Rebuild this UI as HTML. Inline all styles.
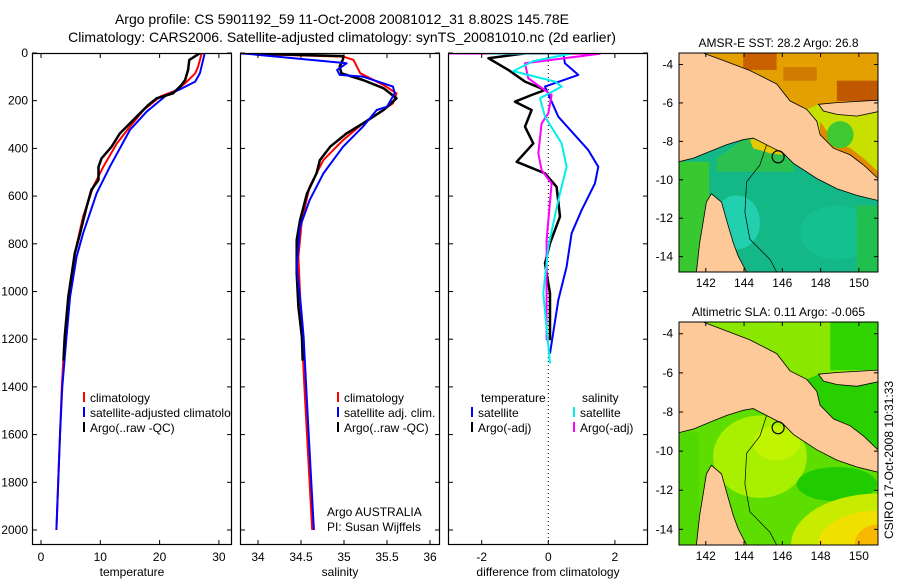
<!DOCTYPE html>
<html><head><meta charset="utf-8"><style>
html,body{margin:0;padding:0;background:#fff;}
svg text{font-family:"Liberation Sans",sans-serif;}
</style></head><body>
<svg id="fig" xmlns="http://www.w3.org/2000/svg" width="900" height="580" viewBox="0 0 900 580">
<rect width="900" height="580" fill="#fff"/>
<text x="342" y="24" font-size="14" text-anchor="middle">Argo profile: CS 5901192_59 11-Oct-2008 20081012_31 8.802S 145.78E</text>
<text x="342" y="42" font-size="14" text-anchor="middle">Climatology: CARS2006. Satellite-adjusted climatology: synTS_20081010.nc (2d earlier)</text>
<g id="panels"></g>
<g id="maps"></g>
<text transform="translate(893,460) rotate(-90)" font-size="12" text-anchor="middle">CSIRO 17-Oct-2008 10:31:33</text>
</svg>
<script>
// ---- data (depth in dbar) ----
const tempClimDepth=[1,57,85,120,155,183,239,309,379,477,561,686,840,1022,1190,1400,1600,1800,2000];
const tempClim=[27.1,26.5,26.0,24.6,22.9,20.1,17.3,15.0,12.8,10.5,8.8,7.1,5.7,4.6,4.0,3.5,3.2,2.9,2.6];
const tempSatDepth=[1,85,120,155,176,246,323,477,588,756,854,1022,1190,1400,1600,1800,2000];
const tempSat=[27.6,26.8,26.0,23.2,21.2,17.8,15.0,11.6,9.4,7.1,6.0,4.9,4.3,3.6,3.2,2.9,2.6];
const tempArgoDepth=[1,29,71,113,134,169,190,218,253,295,337,393,442,477,532,574,644,756,840,924,1022,1190,1290];
const tempArgo=[26.8,25.0,24.8,24.3,23.7,22.3,19.5,18.1,16.7,15.0,13.3,11.9,10.2,9.7,9.7,8.5,7.7,6.6,5.7,5.2,4.6,4.0,3.8];
const salClimDepth=[5,15,29,85,134,169,211,295,365,449,561,700,854,1190,1400,1600,1800,2000];
const salClim=[34.0,34.99,35.11,35.19,35.46,35.61,35.57,35.22,34.99,34.76,34.60,34.51,34.47,34.51,34.54,34.57,34.60,34.63];
const salSatDepth=[1,43,71,92,99,141,169,225,239,309,393,505,617,728,896,1064,1190,1400,1600,1800,2000];
const salSat=[33.8,35.03,34.92,34.95,35.22,35.57,35.59,35.50,35.38,35.22,34.99,34.76,34.60,34.49,34.45,34.50,34.53,34.56,34.59,34.62,34.65];
const salArgoDepth=[1,13,25,57,85,113,148,190,239,295,337,393,449,505,589,700,784,924,1064,1190,1290];
const salArgo=[33.79,34.99,34.99,34.95,34.97,35.22,35.46,35.61,35.46,35.22,35.03,34.84,34.72,34.68,34.57,34.49,34.45,34.45,34.47,34.51,34.52];
const dTSatDepth=[0,43,92,141,267,407,477,547,659,756,896,1036,1260];
const dTSat=[0.45,0.5,0.9,-0.1,0.3,1.2,1.5,1.4,1.0,0.7,0.55,0.3,0.05];
const dTArgoDepth=[0,22,71,120,155,176,204,239,309,379,456,505,561,686,798,882,1008,1204];
const dTArgo=[-0.6,-1.8,-1.2,-0.7,-0.1,-0.5,-1.0,-0.5,-0.7,-0.45,-0.95,-0.1,0.25,0.35,0.05,-0.1,0.05,0.05];
const dSSatDepth=[2,2,34,76,120,141,190,267,379,477,617,812,1008,1302];
const dSSat=[-1.85,0.7,-0.45,-1.05,0.2,0.4,-0.25,-0.1,0.4,0.55,0.3,0.0,-0.15,0.05];
const dSArgoDepth=[2,3,43,106,176,253,295,421,491,547,784,1204];
const dSArgo=[-3.0,1.55,-0.7,-0.6,0.1,0.0,-0.2,-0.3,-0.2,0.1,-0.05,-0.05];
const depthTicks=[0,200,400,600,800,1000,1200,1400,1600,1800,2000];
const tempTicks=[0,10,20,30];
const salTicks=[34,34.5,35,35.5,36];
const diffTicks=[-2,0,2];
const lonTicks=[142,144,146,148,150];
const latTicks=[-4,-6,-8,-10,-12,-14];
const argoLon=145.78, argoLat=-8.802;

const NS='http://www.w3.org/2000/svg';
function mk(tag,attrs,parent){const e=document.createElementNS(NS,tag);for(const k in attrs)e.setAttribute(k,attrs[k]);parent.appendChild(e);return e;}
const panels=document.getElementById('panels');
const TOP=53,BOT=545;
const yD=d=>TOP+d*0.2385;
const xT=v=>41+5.93*v;
const xS=v=>258+86*(v-34);
const xDf=v=>548.3+33.3*v;

function panel(name,x0,x1,xf,ticks,label,fmt){
  const g=mk('g',{},panels);
  
  
  mk('rect',{x:x0,y:TOP,width:x1-x0,height:BOT-TOP,fill:'#fff'},g);
  const cp=mk('clipPath',{id:'cp'+name},g);
  mk('rect',{x:x0,y:TOP,width:x1-x0,height:BOT-TOP},cp);
  const inner=mk('g',{'clip-path':'url(#cp'+name+')'},g);
  depthTicks.forEach(d=>{
    mk('line',{x1:x0,x2:x0+5,y1:yD(d),y2:yD(d),stroke:'#000'},g);
    mk('line',{x1:x1-5,x2:x1,y1:yD(d),y2:yD(d),stroke:'#000'},g);
  });
  ticks.forEach(t=>{
    const x=xf(t);
    mk('line',{x1:x,x2:x,y1:TOP,y2:TOP+5,stroke:'#000'},g);
    mk('line',{x1:x,x2:x,y1:BOT-5,y2:BOT,stroke:'#000'},g);
    const tx=mk('text',{x:x,y:561,'font-size':12,'text-anchor':'middle'},g);
    
    
    tx.textContent=fmt(t);
  });
  const xl=mk('text',{x:(x0+x1)/2,y:576,'font-size':12,'text-anchor':'middle'},g);
  
  
  xl.textContent=label;
  const fr=mk('rect',{x:x0+0.5,y:TOP+0.5,width:x1-x0-1,height:BOT-TOP-1,fill:'none',stroke:'#000','stroke-width':1.2},g);
  
  
  return {g,inner,x0,x1};
}
function line(p,xs,ds,xf,color,w,name){
  const pts=xs.map((v,i)=>xf(v).toFixed(1)+','+yD(ds[i]).toFixed(1)).join(' ');
  const e=mk('polyline',{points:pts,fill:'none',stroke:color,'stroke-width':w,'stroke-linejoin':'round'},p.inner);
  
  
}
function legend(g,x,y,color,text,name){
  mk('line',{x1:x,x2:x,y1:y-6,y2:y+4,stroke:color,'stroke-width':2},g);
  const t=mk('text',{x:x+6,y:y+4,'font-size':12},g);
  
  
  t.textContent=text;
}

// panel 1
const p1=panel('temperature-panel',32,232,xT,tempTicks,'temperature',v=>String(v));
depthTicks.forEach(d=>{
  const t=mk('text',{x:28,y:yD(d)+4,'font-size':12,'text-anchor':'end'},panels);
  
  
  t.textContent=d;
});
line(p1,tempClim,tempClimDepth,xT,'#f00',2,'temp-climatology-line');
line(p1,tempSat,tempSatDepth,xT,'#00f',2,'temp-satellite-line');
line(p1,tempArgo,tempArgoDepth,xT,'#000',2.5,'temp-argo-line');
legend(p1.inner,84,398,'#f00','climatology','legend-climatology');
legend(p1.inner,84,413,'#00f','satellite-adjusted climatology','legend-satellite-adjusted');
legend(p1.inner,84,428,'#000','Argo(..raw -QC)','legend-argo');

// panel 2
const p2=panel('salinity-panel',240,440,xS,salTicks,'salinity',v=>String(v));
line(p2,salClim,salClimDepth,xS,'#f00',2,'sal-climatology-line');
line(p2,salArgo,salArgoDepth,xS,'#000',2.5,'sal-argo-line');
line(p2,salSat,salSatDepth,xS,'#00f',2,'sal-satellite-line');
legend(panels,338,398,'#f00','climatology','legend-sal-climatology');
legend(panels,338,413,'#00f','satellite adj. clim.','legend-sal-satellite');
legend(panels,338,428,'#000','Argo(..raw -QC)','legend-sal-argo');
[['Argo AUSTRALIA',516],['PI: Susan Wijffels',531]].forEach(a=>{
  const t=mk('text',{x:327,y:a[1],'font-size':12},panels);
  
  
  t.textContent=a[0];
});

// panel 3
const p3=panel('difference-panel',448,648,xDf,diffTicks,'difference from climatology',v=>String(v));
mk('line',{x1:xDf(0),x2:xDf(0),y1:TOP,y2:BOT,stroke:'#000','stroke-dasharray':'1,3'},p3.inner);
line(p3,dTArgo,dTArgoDepth,xDf,'#000',2.5,'dtemp-argo-line');
line(p3,dTSat,dTSatDepth,xDf,'#00f',2,'dtemp-satellite-line');
line(p3,dSArgo,dSArgoDepth,xDf,'#f0f',2,'dsal-argo-line');
line(p3,dSSat,dSSatDepth,xDf,'#0ee',2,'dsal-satellite-line');
[['temperature',481,402],['salinity',582,402]].forEach(a=>{
  const t=mk('text',{x:a[1],y:a[2],'font-size':12},panels);
  
  
  t.textContent=a[0];
});
legend(panels,472,413,'#00f','satellite','legend-dtemp-satellite');
legend(panels,472,428,'#000','Argo(-adj)','legend-dtemp-argo');
legend(panels,574,413,'#0ee','satellite','legend-dsal-satellite');
legend(panels,574,428,'#f0f','Argo(-adj)','legend-dsal-argo');

// ---- maps ----
const maps=document.getElementById('maps');
const land=[[88,88],[160,88],[220,110],[300,140],[380,180],[420,230],[470,255],[500,290],[510,330],[550,370],[600,390],[640,420],[683,460],[683,525],[620,510],[560,490],[500,460],[430,415],[400,385],[350,360],[310,340],[280,345],[230,360],[180,380],[130,400],[88,410]];
const land2=[[505,240],[560,235],[683,228],[683,262],[620,275],[560,270],[520,260]];
const capeYork=[[185,505],[215,530],[235,600],[250,650],[265,690],[290,737],[140,737],[150,650],[160,590],[170,530]];
function drawMap(name,top,h,title,zones){
  const X0=679,W=199;
  const fx=x=>X0+(x-88)/595*W, fy=y=>top+(y-88)/649*h;
  const poly=p=>p.map(q=>fx(q[0]).toFixed(1)+','+fy(q[1]).toFixed(1)).join(' ');
  const g=mk('g',{},maps);
  
  
  const cp=mk('clipPath',{id:'cp'+name},g);
  mk('rect',{x:X0,y:top,width:W,height:h},cp);
  const inner=mk('g',{'clip-path':'url(#cp'+name+')'},g);
  zones.forEach(z=>{
    if(z.t==='poly')mk('polygon',{points:poly(z.p),fill:z.c},inner);
    else if(z.t==='rect')mk('rect',{x:fx(z.x),y:fy(z.y),width:fx(z.x+z.w)-fx(z.x),height:fy(z.y+z.h)-fy(z.y),fill:z.c},inner);
    else mk('ellipse',{cx:fx(z.x),cy:fy(z.y),rx:z.rx/595*W,ry:z.ry/649*h,fill:z.c},inner);
  });
  [land,land2,capeYork].forEach(p=>{
    const e=mk('polygon',{points:poly(p),fill:'#fdc998',stroke:'#000','stroke-width':0.8},inner);
    
    
  });
  mk('polyline',{points:poly([[350,360],[330,420],[290,470],[285,560],[300,640],[360,700],[380,737]]),fill:'none',stroke:'#000','stroke-width':0.7},inner);
  const lonX=v=>X0+(v-140.6)/10.4*W;
  const latY=v=>top+(-3.4-v)/11.4*h;
  const mk2=mk('circle',{cx:lonX(argoLon),cy:latY(argoLat),r:6,fill:'none',stroke:'#000','stroke-width':1.2},g);
  
  
  mk('rect',{x:X0,y:top,width:W,height:h,fill:'none',stroke:'#000'},g);
  lonTicks.forEach(v=>{
    const x=lonX(v);
    mk('line',{x1:x,x2:x,y1:top+h-4,y2:top+h,stroke:'#000'},g);
    mk('line',{x1:x,x2:x,y1:top,y2:top+4,stroke:'#000'},g);
    const t=mk('text',{x:x,y:top+h+15,'font-size':12,'text-anchor':'middle'},g);
    
    
    t.textContent=v;
  });
  latTicks.forEach(v=>{
    const y=latY(v);
    mk('line',{x1:X0,x2:X0+4,y1:y,y2:y,stroke:'#000'},g);
    mk('line',{x1:X0+W-4,x2:X0+W,y1:y,y2:y,stroke:'#000'},g);
    const t=mk('text',{x:673,y:y+4,'font-size':12,'text-anchor':'end'},g);
    
    
    t.textContent=v;
  });
  const t=mk('text',{x:X0+W/2,y:top-6,'font-size':12,'text-anchor':'middle'},g);
  
  
  t.textContent=title;
}
const northOcean=[[160,88],[683,88],[683,228],[505,240],[470,255],[420,230],[380,180],[300,140],[220,110]];
const solomon=[[470,255],[505,240],[683,240],[683,470],[640,420],[600,390],[550,370],[510,330],[500,290]];
drawMap('sst-map',53,219,'AMSR-E SST: 28.2 Argo: 26.8',[
  {t:'rect',x:88,y:88,w:595,h:649,c:'#14b886'},
  {t:'poly',p:northOcean,c:'#e4a000'},
  {t:'rect',x:280,y:88,w:100,h:50,c:'#c86000'},
  {t:'rect',x:560,y:170,w:123,h:60,c:'#c05800'},
  {t:'rect',x:400,y:130,w:100,h:40,c:'#d07a00'},
  {t:'poly',p:solomon,c:'#c8e000'},
  {t:'poly',p:[[510,290],[550,350],[600,370],[640,400],[683,440],[683,470],[640,420],[600,390],[550,370],[510,330]],c:'#e08a00'},
  {t:'ellipse',x:570,y:330,rx:40,ry:40,c:'#40c830'},
  {t:'poly',p:[[200,400],[280,345],[310,340],[350,360],[400,385],[430,415],[430,440],[200,440]],c:'#2cc050'},
  {t:'poly',p:[[300,345],[330,340],[380,370],[400,390],[360,385],[310,370]],c:'#e8c800'},
  {t:'rect',x:88,y:410,w:90,h:327,c:'#38c830'},
  {t:'ellipse',x:260,y:590,rx:70,ry:80,c:'#22d0b0'},
  {t:'ellipse',x:560,y:620,rx:110,ry:80,c:'#14c090'},
  {t:'rect',x:620,y:540,w:63,h:197,c:'#20c050'}
]);
drawMap('sla-map',322,223,'Altimetric SLA: 0.11 Argo: -0.065',[
  {t:'rect',x:88,y:88,w:595,h:649,c:'#5ede00'},
  {t:'poly',p:northOcean,c:'#8ae800'},
  {t:'rect',x:540,y:88,w:143,h:140,c:'#30d400'},
  {t:'poly',p:solomon,c:'#28d000'},
  {t:'ellipse',x:330,y:480,rx:140,ry:120,c:'#a8f000'},
  {t:'ellipse',x:380,y:440,rx:70,ry:50,c:'#c0f400'},
  {t:'ellipse',x:560,y:560,rx:120,ry:50,c:'#20cc00'},
  {t:'ellipse',x:683,y:737,rx:260,ry:150,c:'#c8ec00'},
  {t:'ellipse',x:683,y:737,rx:180,ry:100,c:'#f0e000'},
  {t:'ellipse',x:683,y:737,rx:70,ry:60,c:'#f8b800'},
  {t:'rect',x:88,y:410,w:60,h:327,c:'#50d800'}
]);
</script>
</body></html>
